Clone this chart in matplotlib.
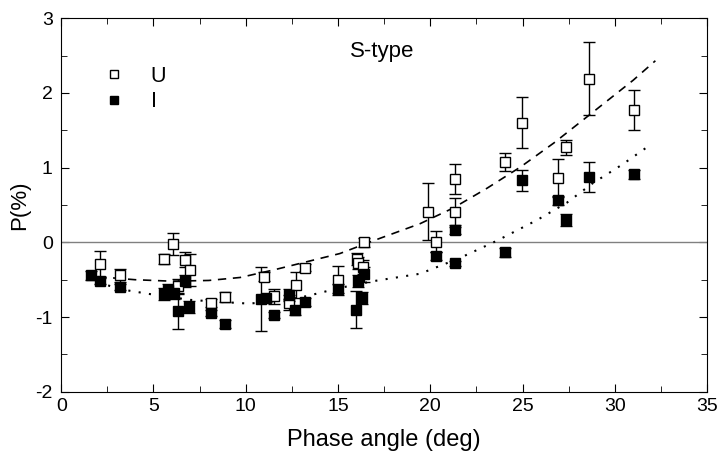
import matplotlib
matplotlib.use("Agg")
import matplotlib.pyplot as plt
from matplotlib.ticker import MultipleLocator

plt.rcParams['font.family'] = ['Liberation Sans', 'DejaVu Sans']
plt.rcParams['axes.unicode_minus'] = False

# U filter data (phase angle, polarization, error)
u_phase = [2.1, 3.2, 5.55, 6.05, 6.35, 6.7, 7.0, 8.1, 8.9, 11.0, 11.55, 12.35, 12.7,
           13.2, 15.0, 16.05, 16.1, 16.35, 16.4, 19.9, 20.3, 21.35, 21.35, 24.05,
           24.95, 26.9, 27.35, 28.6, 31.05]
u_pol = [-0.29, -0.44, -0.22, -0.02, -0.59, -0.23, -0.37, -0.81, -0.73, -0.46, -0.72,
         -0.81, -0.57, -0.34, -0.51, -0.22, -0.28, -0.33, 0.0, 0.41, 0.01, 0.85, 0.40,
         1.08, 1.60, 0.86, 1.27, 2.19, 1.77]
u_err = [0.18, 0.09, 0.07, 0.15, 0.10, 0.10, 0.22, 0.05, 0.07, 0.06, 0.10, 0.10, 0.17,
         0.05, 0.19, 0.08, 0.08, 0.10, 0.06, 0.38, 0.14, 0.20, 0.20, 0.12, 0.34, 0.25,
         0.10, 0.49, 0.27]

# I filter data
i_phase = [1.6, 2.1, 3.2, 5.55, 5.8, 6.1, 6.35, 6.7, 6.95, 8.1, 8.9, 10.85, 11.1,
           11.55, 12.35, 12.65, 13.2, 15.0, 16.0, 16.1, 16.3, 16.4, 20.3, 21.35, 21.35,
           24.05, 24.95, 26.9, 27.35, 28.6, 31.05]
i_pol = [-0.44, -0.52, -0.60, -0.69, -0.64, -0.68, -0.92, -0.52, -0.86, -0.94, -1.09,
         -0.76, -0.75, -0.97, -0.70, -0.91, -0.80, -0.62, -0.90, -0.52, -0.74, -0.43,
         -0.18, 0.17, -0.28, -0.13, 0.83, 0.56, 0.30, 0.88, 0.91]
i_err = [0.06, 0.04, 0.04, 0.08, 0.08, 0.08, 0.24, 0.08, 0.08, 0.04, 0.05, 0.43, 0.05,
         0.04, 0.08, 0.06, 0.05, 0.06, 0.25, 0.08, 0.08, 0.10, 0.05, 0.06, 0.03, 0.06,
         0.14, 0.06, 0.08, 0.20, 0.06]

# fitted curves
fit_u_x = [2.0, 4.0, 6.0, 8.0, 9.7, 11.5, 13.3, 15.1, 16.9, 19.45, 21.25, 23.05, 24.9,
           26.7, 28.6, 31.0, 32.2]
fit_u_y = [-0.46, -0.50, -0.52, -0.51, -0.47, -0.37, -0.26, -0.15, 0.02, 0.25, 0.46,
           0.72, 1.01, 1.33, 1.70, 2.17, 2.43]
fit_i_x = [2.0, 3.4, 5.0, 7.0, 8.8, 10.2, 11.8, 13.3, 15.1, 16.9, 19.45, 21.6, 23.6,
           25.8, 27.4, 28.8, 30.4, 31.9]
fit_i_y = [-0.54, -0.635, -0.70, -0.77, -0.80, -0.82, -0.78, -0.72, -0.61, -0.52,
           -0.42, -0.21, 0.02, 0.30, 0.53, 0.79, 1.04, 1.30]

fig = plt.figure(figsize=(7.2, 4.54), dpi=100)
ax = fig.add_axes([0.085, 0.137, 0.897, 0.823])

ax.axhline(0, color="gray", lw=1)

ax.plot(fit_u_x, fit_u_y, color="black", lw=1.2, ls=(0, (5, 4)))
ax.plot(fit_i_x, fit_i_y, color="black", lw=1.5, ls=(0, (1, 4)))

ax.errorbar(u_phase, u_pol, yerr=u_err, fmt="s", ms=7, mfc="white", mec="black",
            mew=1, ecolor="black", elinewidth=1, capsize=4.5, capthick=1, label="U", zorder=3)
ax.errorbar(i_phase, i_pol, yerr=i_err, fmt="s", ms=7, mfc="black", mec="black",
            ecolor="black", elinewidth=1, capsize=4.5, capthick=1, label="I", zorder=3)

ax.set_xlim(0, 35)
ax.set_ylim(-2, 3)
ax.xaxis.set_major_locator(MultipleLocator(5))
ax.xaxis.set_minor_locator(MultipleLocator(2.5))
ax.yaxis.set_major_locator(MultipleLocator(1))
ax.yaxis.set_minor_locator(MultipleLocator(0.5))
ax.tick_params(which="both", direction="in", top=True, right=True, labelsize=14)
ax.tick_params(which="major", length=6)
ax.tick_params(which="minor", length=4)
ax.tick_params(axis="x", pad=4.5)
ax.tick_params(axis="y", pad=6)

ax.set_xlabel("Phase angle (deg)", fontsize=17, labelpad=10)
ax.set_ylabel("P(%)", fontsize=16, labelpad=4)
ax.text(0.497, 0.912, "S-type", transform=ax.transAxes, fontsize=16, ha="center", va="center")

handles, labels = ax.get_legend_handles_labels()
handles = [h[0] for h in handles]
ax.legend(handles, labels, loc="upper left", bbox_to_anchor=(0.065, 0.872), frameon=False,
          fontsize=15.5, handlelength=1.0, labelspacing=0.2, handletextpad=1.2,
          borderpad=0, borderaxespad=0, markerscale=0.75)

fig.savefig("out.png", dpi=100)
